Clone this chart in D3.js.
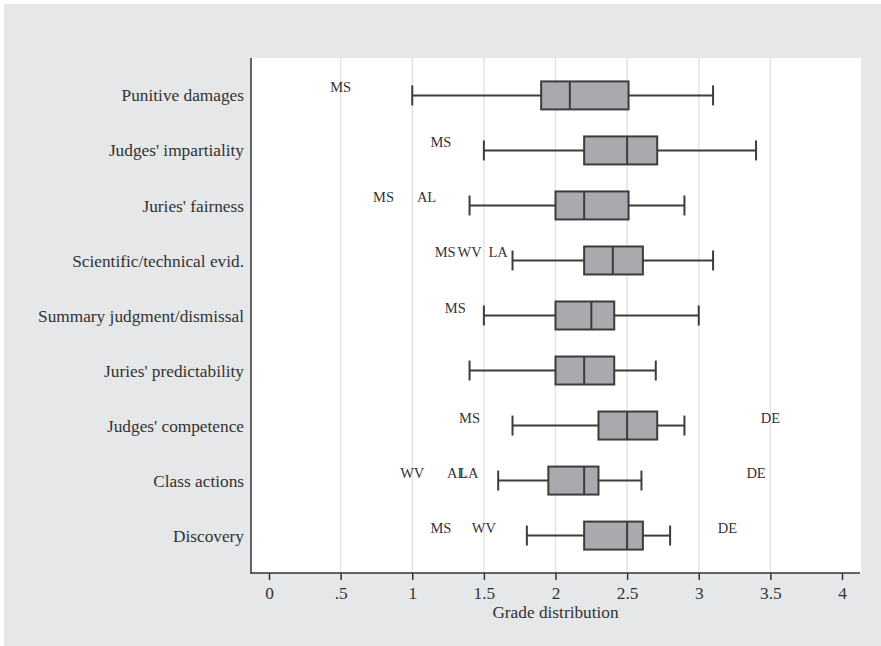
<!DOCTYPE html>
<html>
<head>
<meta charset="utf-8">
<script src="https://cdn.jsdelivr.net/npm/d3@7"></script>
<style>
  body { margin: 0; background: #fff; }
  text { font-family: "Liberation Serif", "DejaVu Serif", serif; fill: #333; }
</style>
</head>
<body>
<svg id="chart" width="881" height="646"></svg>
<script>
// categories, top to bottom
var categories = ["Punitive damages", "Judges' impartiality", "Juries' fairness",
  "Scientific/technical evid.", "Summary judgment/dismissal", "Juries' predictability",
  "Judges' competence", "Class actions", "Discovery"];

// box summaries
var whiskerLow  = [1.0, 1.5, 1.4, 1.7, 1.5, 1.4, 1.7, 1.6, 1.8];
var quartile1   = [1.9, 2.2, 2.0, 2.2, 2.0, 2.0, 2.3, 1.95, 2.2];
var medians     = [2.1, 2.5, 2.2, 2.4, 2.25, 2.2, 2.5, 2.2, 2.5];
var quartile3   = [2.51, 2.71, 2.51, 2.61, 2.41, 2.41, 2.71, 2.3, 2.61];
var whiskerHigh = [3.1, 3.4, 2.9, 3.1, 3.0, 2.7, 2.9, 2.6, 2.8];

// outside values (state labels)
var outlierRow   = [0, 1, 2, 2, 3, 3, 3, 4, 6, 6, 7, 7, 7, 7, 8, 8, 8];
var outlierLabel = ["MS", "MS", "MS", "AL", "MS", "WV", "LA", "MS", "MS", "DE",
                    "WV", "AL", "LA", "DE", "MS", "WV", "DE"];
var outlierValue = [0.5, 1.2, 0.8, 1.1, 1.23, 1.4, 1.6, 1.3, 1.4, 3.5,
                    1.0, 1.31, 1.395, 3.4, 1.2, 1.5, 3.2];

var xTicks = [0, 0.5, 1, 1.5, 2, 2.5, 3, 3.5, 4];
var xTickLabels = ["0", ".5", "1", "1.5", "2", "2.5", "3", "3.5", "4"];

var svg = d3.select("#chart");

svg.append("rect").attr("x", 4).attr("y", 4).attr("width", 877).attr("height", 642)
    .attr("fill", "#e6e7e9");

var plot = {left: 251, right: 861, top: 58, bottom: 573};

svg.append("rect").attr("x", plot.left).attr("y", plot.top)
    .attr("width", plot.right - plot.left).attr("height", plot.bottom - plot.top)
    .attr("fill", "#fff");

var x = d3.scaleLinear().domain([0, 4]).range([269, 842]);
var y = d3.scalePoint().domain(categories).range([plot.top, plot.bottom]).padding(0.68);

// grid
svg.append("g").selectAll("line")
    .data(xTicks.filter(function(d) { return d > 0 && d < 4; }))
    .enter().append("line")
    .attr("x1", function(d) { return x(d); }).attr("x2", function(d) { return x(d); })
    .attr("y1", plot.top).attr("y2", plot.bottom)
    .attr("stroke", "#e3e3e3").attr("stroke-width", 1.5);

var boxH = 28, capH = 20;
var rows = categories.map(function(c, i) {
  return {cat: c, lo: whiskerLow[i], q1: quartile1[i], med: medians[i], q3: quartile3[i], hi: whiskerHigh[i]};
});

var g = svg.append("g").attr("stroke", "#3c3c3c").attr("stroke-width", 2);
var row = g.selectAll("g").data(rows).enter().append("g")
    .attr("transform", function(d) { return "translate(0," + y(d.cat) + ")"; });

row.append("line").attr("x1", function(d) { return x(d.lo); }).attr("x2", function(d) { return x(d.q1); });
row.append("line").attr("x1", function(d) { return x(d.q3); }).attr("x2", function(d) { return x(d.hi); });
row.append("line").attr("x1", function(d) { return x(d.lo); }).attr("x2", function(d) { return x(d.lo); })
    .attr("y1", -capH / 2).attr("y2", capH / 2);
row.append("line").attr("x1", function(d) { return x(d.hi); }).attr("x2", function(d) { return x(d.hi); })
    .attr("y1", -capH / 2).attr("y2", capH / 2);
row.append("rect")
    .attr("x", function(d) { return x(d.q1); })
    .attr("width", function(d) { return x(d.q3) - x(d.q1); })
    .attr("y", -boxH / 2).attr("height", boxH)
    .attr("fill", "#a9aaae");
row.append("line").attr("x1", function(d) { return x(d.med); }).attr("x2", function(d) { return x(d.med); })
    .attr("y1", -boxH / 2).attr("y2", boxH / 2);

// outlier labels
svg.append("g").selectAll("text")
    .data(outlierLabel)
    .enter().append("text")
    .attr("x", function(d, i) { return x(outlierValue[i]); })
    .attr("y", function(d, i) { return y(categories[outlierRow[i]]) - 3; })
    .attr("text-anchor", "middle")
    .attr("font-size", 14.5)
    .text(function(d) { return d; });

// category labels
svg.append("g").selectAll("text")
    .data(categories)
    .enter().append("text")
    .attr("x", 244)
    .attr("y", function(d) { return y(d); })
    .attr("dy", "0.35em")
    .attr("text-anchor", "end")
    .attr("font-size", 17.3)
    .text(function(d) { return d; });

// axes lines
svg.append("line").attr("x1", plot.left).attr("x2", plot.left)
    .attr("y1", plot.top).attr("y2", plot.bottom + 1)
    .attr("stroke", "#333").attr("stroke-width", 1.5);

var xAxis = svg.append("g")
    .attr("transform", "translate(0," + plot.bottom + ")")
    .call(d3.axisBottom(x).tickValues(xTicks)
      .tickFormat(function(d, i) { return xTickLabels[i]; })
      .tickSize(7).tickPadding(7));
xAxis.select(".domain").remove();
xAxis.selectAll(".tick line").attr("stroke", "#333").attr("stroke-width", 1.5);
xAxis.selectAll(".tick text")
    .attr("font-family", "Liberation Serif, serif").attr("font-size", 17.3).attr("fill", "#333");
svg.append("line").attr("x1", plot.left).attr("x2", plot.right - 1)
    .attr("y1", plot.bottom).attr("y2", plot.bottom)
    .attr("stroke", "#333").attr("stroke-width", 1.5);

svg.append("text")
    .attr("x", x(2))
    .attr("y", 618)
    .attr("text-anchor", "middle")
    .attr("font-size", 17.3)
    .text("Grade distribution");
</script>
</body>
</html>
